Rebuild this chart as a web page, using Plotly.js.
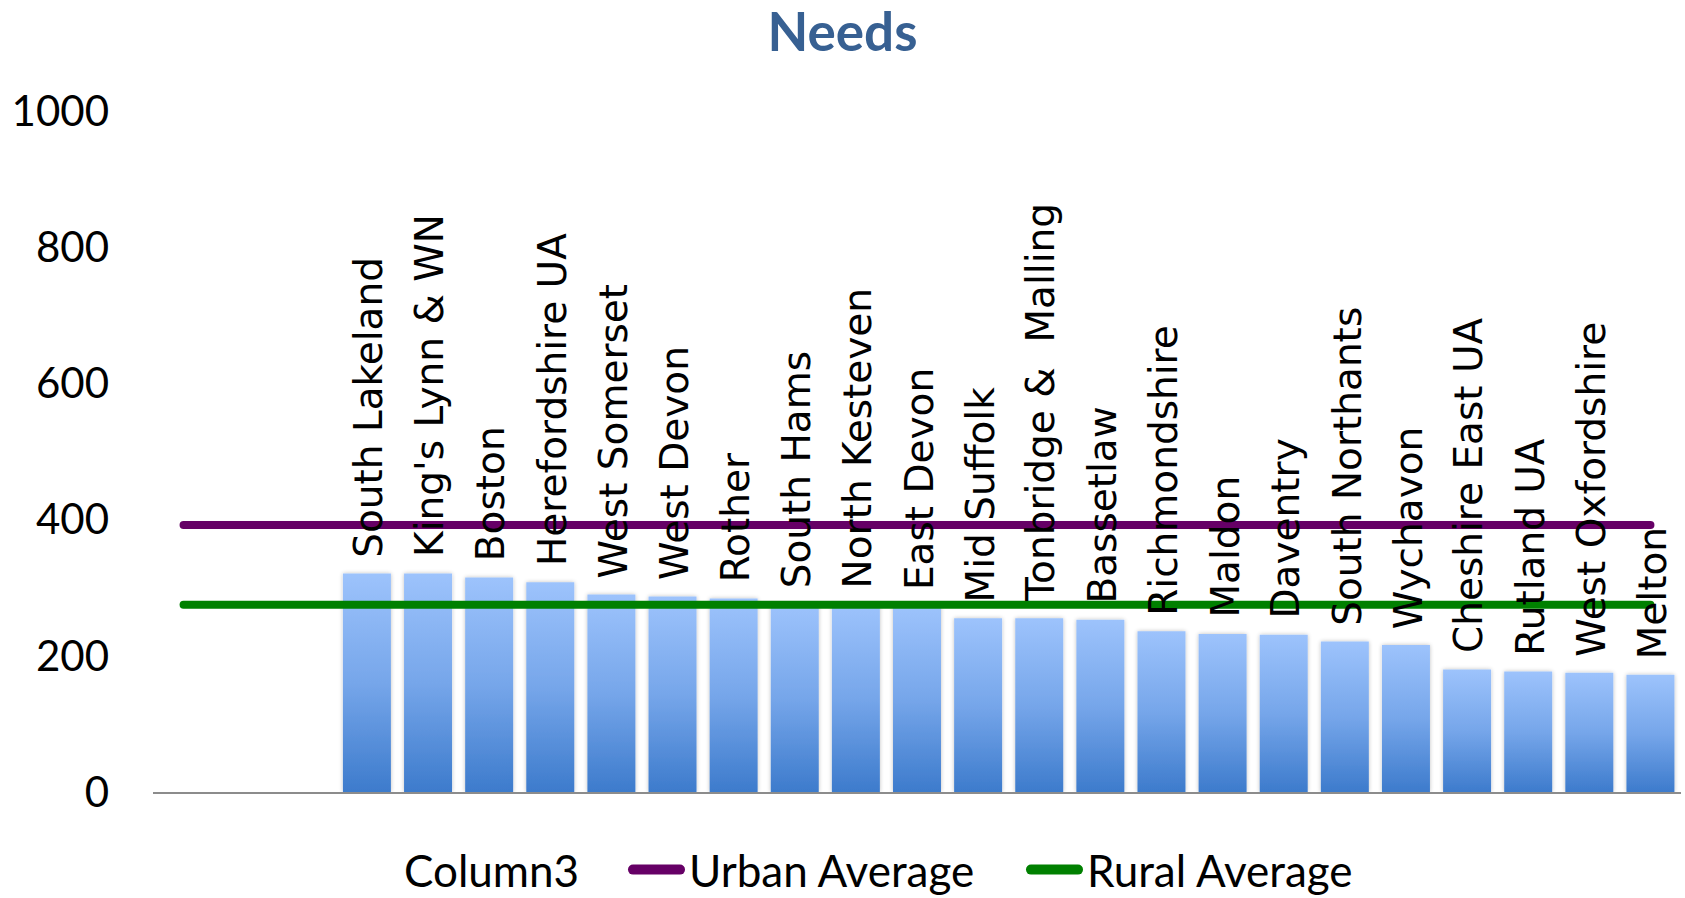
<!DOCTYPE html>
<html>
<head>
<meta charset="utf-8">
<script src="https://cdn.plot.ly/plotly-3.0.1.min.js"></script>
<style>
  html, body { margin: 0; padding: 0; background: #ffffff; }
  #chart { width: 1685px; height: 898px; }
</style>
</head>
<body>
<div id="chart"></div>
<script>
// ---- data ----
const districts = [
  "South Lakeland", "King's Lynn & WN", "Boston", "Herefordshire UA",
  "West Somerset", "West Devon", "Rother", "South Hams", "North Kesteven",
  "East Devon", "Mid Suffolk", "Tonbridge &  Malling", "Bassetlaw",
  "Richmondshire", "Maldon", "Daventry", "South Northants", "Wychavon",
  "Cheshire East UA", "Rutland UA", "West Oxfordshire", "Melton"
];
const needs = [
  321, 321, 315, 308,
  290, 287, 284, 276, 276,
  273, 255, 255, 253,
  236, 232, 231, 221, 216,
  180, 177, 175, 172
];
const emptyLeadingSlots = 3;          // blank categories before the first district
const urbanAverage = 392;
const ruralAverage = 275;
const yTicks = [0, 200, 400, 600, 800, 1000];
const chartTitle = "Needs";
const legendNames = ["Column3", "Urban Average", "Rural Average"];

// ---- build traces ----
const nSlots = emptyLeadingSlots + districts.length;
const slotX = Array.from({length: nSlots}, (_, i) => i);
const barX = districts.map((_, i) => i + emptyLeadingSlots);
const urbanY = slotX.map(() => urbanAverage);
const ruralY = slotX.map(() => ruralAverage);

const traces = [
  {
    type: 'bar', x: barX, y: needs, name: 'needs', showlegend: false,
    marker: { color: '#6f9fe3', line: { width: 0 } },
    hoverinfo: 'skip'
  },
  {
    type: 'scatter', mode: 'lines', x: slotX, y: slotX.map(() => null),
    name: legendNames[0], legend: 'legend',
    line: { width: 0, color: 'rgba(0,0,0,0)' }, hoverinfo: 'skip'
  },
  {
    type: 'scatter', mode: 'lines', x: slotX, y: urbanY,
    name: legendNames[1], legend: 'legend2',
    line: { width: 8, color: '#660066' }, hoverinfo: 'skip'
  },
  {
    type: 'scatter', mode: 'lines', x: slotX, y: ruralY,
    name: legendNames[2], legend: 'legend3',
    line: { width: 8, color: '#008000' }, hoverinfo: 'skip'
  }
];

const annotations = districts.map((name, i) => ({
  x: barX[i], y: needs[i], xref: 'x', yref: 'y',
  text: name, showarrow: false, textangle: -90,
  xanchor: 'center', yanchor: 'bottom', yshift: 14, xshift: 2,
  font: { family: 'DejaVu Sans, Verdana, sans-serif', size: 39, color: '#000000' }
}));

const legendFont = { family: 'Lato, Calibri, sans-serif', size: 44, color: '#000000' };
function legendAt(textStartPx, itemwidth) {
  const textGap = itemwidth + 10;
  return {
    orientation: 'h', xref: 'container', yref: 'container',
    x: (textStartPx - textGap - 1) / 1685, xanchor: 'left',
    y: 1 - 870 / 898, yanchor: 'middle', itemwidth: itemwidth,
    font: legendFont, bgcolor: 'rgba(0,0,0,0)', borderwidth: 0
  };
}

const layout = {
  width: 1685, height: 898,
  margin: { l: 153, r: 4, t: 111, b: 106, autoexpand: false },
  paper_bgcolor: '#ffffff', plot_bgcolor: '#ffffff',
  bargap: 0.215,
  title: {
    text: '<b>' + chartTitle + '</b>',
    x: 0.5, xref: 'container', xanchor: 'center',
    y: 1 - 32 / 898, yref: 'container', yanchor: 'middle',
    font: { family: 'Lato, Calibri, sans-serif', size: 53, color: '#376092' }
  },
  xaxis: {
    range: [-0.5, nSlots - 0.5], showticklabels: false, ticks: '',
    showgrid: false, zeroline: false,
    showline: true, linecolor: '#8c8c8c', linewidth: 1.5, fixedrange: true
  },
  yaxis: {
    range: [0, 1000], tickvals: yTicks, ticktext: yTicks.map(String),
    showgrid: false, zeroline: false, showline: false, ticks: '',
    ticklabelstandoff: 43,
    tickfont: { family: 'Lato, Calibri, sans-serif', size: 42, color: '#000000' },
    fixedrange: true
  },
  showlegend: true,
  legend: legendAt(405, 30),
  legend2: legendAt(690, 60),
  legend3: legendAt(1088, 60),
  annotations: annotations
};

Plotly.newPlot('chart', traces, layout, { displayModeBar: false, staticPlot: true }).then(gd => {
  const svgNS = 'http://www.w3.org/2000/svg';
  const svg = gd.querySelector('.main-svg');
  let defs = svg.querySelector('defs');
  if (!defs) { defs = document.createElementNS(svgNS, 'defs'); svg.insertBefore(defs, svg.firstChild); }
  const grad = document.createElementNS(svgNS, 'linearGradient');
  grad.setAttribute('id', 'needsBarGradient');
  grad.setAttribute('x1', '0'); grad.setAttribute('y1', '0');
  grad.setAttribute('x2', '0'); grad.setAttribute('y2', '1');
  [['0', '#9dc3fc'], ['0.5', '#76a6ea'], ['1', '#3d7bcc']].forEach(([o, c]) => {
    const s = document.createElementNS(svgNS, 'stop');
    s.setAttribute('offset', o); s.setAttribute('stop-color', c);
    grad.appendChild(s);
  });
  defs.appendChild(grad);
  const filt = document.createElementNS(svgNS, 'filter');
  filt.setAttribute('id', 'barShadow');
  filt.setAttribute('x', '-20%'); filt.setAttribute('y', '-5%');
  filt.setAttribute('width', '140%'); filt.setAttribute('height', '110%');
  filt.innerHTML = '<feGaussianBlur in="SourceAlpha" stdDeviation="2"/>' +
    '<feComponentTransfer><feFuncA type="linear" slope="0.25"/></feComponentTransfer>' +
    '<feMerge><feMergeNode/><feMergeNode in="SourceGraphic"/></feMerge>';
  defs.appendChild(filt);
  gd.querySelectorAll('.barlayer .point path').forEach(p => {
    p.style.fill = 'url(#needsBarGradient)';
    p.setAttribute('filter', 'url(#barShadow)');
  });
  gd.querySelectorAll('.scatterlayer .js-line').forEach(p => {
    p.style.strokeLinecap = 'round';
  });
  // legend swatches: longer, rounded like the reference
  gd.querySelectorAll('.legendlines path').forEach(p => {
    p.setAttribute('d', 'M14,0h47');
    p.style.strokeLinecap = 'round';
    p.style.strokeWidth = '10px';
  });
});
</script>
</body>
</html>
